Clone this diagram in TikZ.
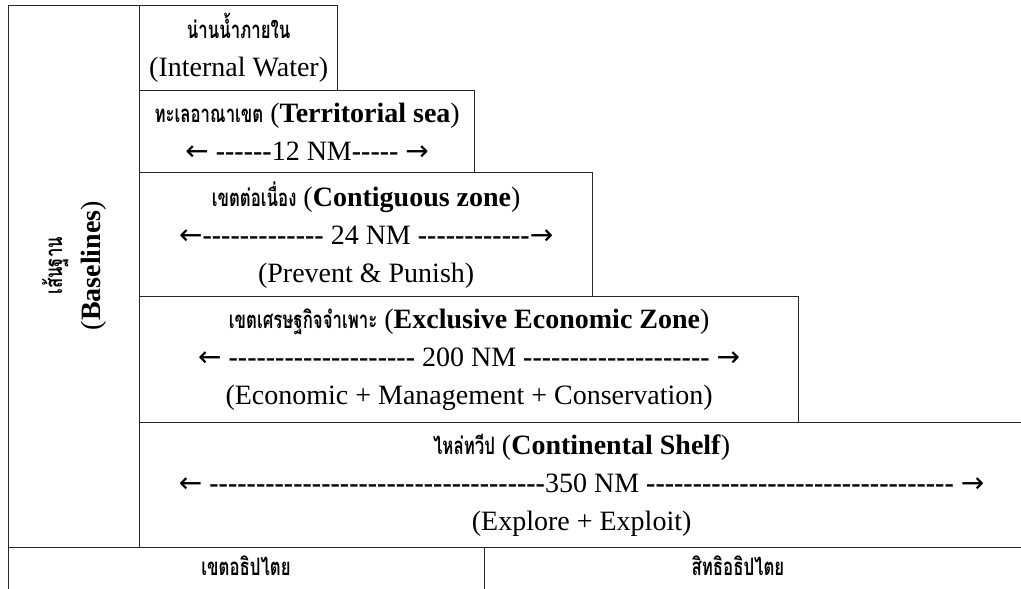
\documentclass[tikz,border=0pt]{standalone}
\usepackage{fontspec}
\setmainfont{Liberation Serif}
\newfontfamily\thai[Script=Thai,FakeStretch=0.7]{Loma}
\newfontfamily\arr{DejaVu Sans}
\newcommand{\thb}[1]{{\thai\bfseries\fontsize{24}{38}\selectfont #1}}
\newcommand{\hy}[1]{{\bfseries\foreach\k in {1,...,#1}{-\kern0pt}}}
\newcommand{\la}{{\arr ←}}
\newcommand{\ra}{{\arr →}}

\begin{document}
\begin{tikzpicture}[x=1pt,y=-1pt,
  zone/.style={draw=black!85,line width=1.3pt,inner sep=0pt,anchor=north west,
    align=center,font=\fontsize{28}{38}\selectfont},
  tag/.style={inner sep=0pt,align=center,font=\fontsize{28}{38}\selectfont}]
\useasboundingbox (0,0) rectangle (1021,589);

\node[zone,minimum width=131,minimum height=542] (bl) at (8,5){};
\node[tag,rotate=90] (bltxt) at ([yshift=11]bl.center){\thb{เส้นฐาน}\\(\textbf{Baselines})};

\node[zone,minimum width=198,minimum height=85] (iw) at (139,5)
  {\thb{น่านน้ำภายใน}\\(Internal Water)};
\node[zone,minimum width=335,minimum height=82] (ts) at (139,90)
  {\thb{ทะเลอาณาเขต} (\textbf{Territorial sea})\\\la{} \hy{6}12 NM\hy{5} \ra};
\node[zone,minimum width=453,minimum height=124] (cz) at (139,172)
  {\thb{เขตต่อเนื่อง} (\textbf{Contiguous zone})\\\la\hy{13} 24 NM \hy{12}\ra\\(Prevent \& Punish)};
\node[zone,minimum width=659,minimum height=126] (eez) at (139,296)
  {\thb{เขตเศรษฐกิจจำเพาะ} (\textbf{Exclusive Economic Zone})\\\la{} \hy{20} 200 NM \hy{20} \ra\\(Economic + Management + Conservation)};
\node[zone,minimum width=884,minimum height=125] (cs) at (139,422)
  {\thb{ไหล่ทวีป} (\textbf{Continental Shelf})\\\la{} \hy{36}350 NM \hy{33} \ra\\(Explore + Exploit)};

\node[zone,minimum width=476,minimum height=60] (sov) at (8,547){};
\node[zone,minimum width=540,minimum height=60] (sr) at (484,547){};
\node[tag] (sovtxt) at (246,566){\thb{เขตอธิปไตย}};
\node[tag] (srtxt) at (738,566){\thb{สิทธิอธิปไตย}};
\end{tikzpicture}
\end{document}
